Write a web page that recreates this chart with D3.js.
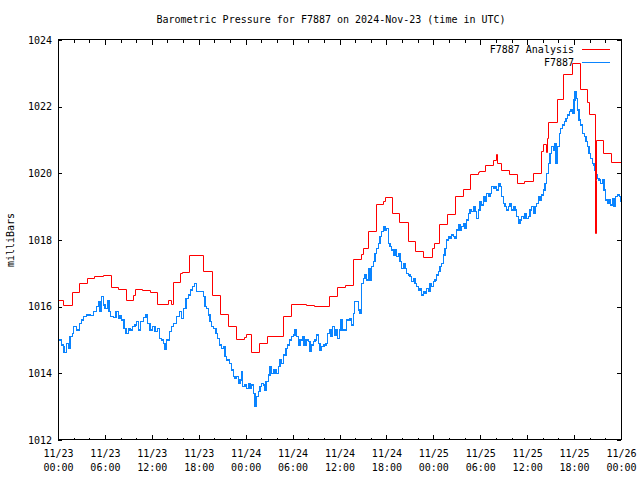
<!DOCTYPE html>
<html><head><meta charset="utf-8">
<script src="https://cdn.jsdelivr.net/npm/d3@7"></script>
<style>
body{margin:0;background:#fff}
svg text{font-family:"DejaVu Sans Mono",monospace;font-size:10px;fill:#000}
</style></head><body>
<svg id="c" width="640" height="480"></svg>
<script>
const chartTitle = "Barometric Pressure for F7887 on 2024-Nov-23 (time in UTC)";
const yAxisLabel = "milliBars";
const seriesNames = ["F7887 Analysis", "F7887"];
const yTickValues = [1012, 1014, 1016, 1018, 1020, 1022, 1024];
const xMajorHours = [0, 6, 12, 18, 24, 30, 36, 42, 48, 54, 60, 66, 72];
const xMinorHours = [2, 4, 8, 10, 14, 16, 20, 22, 26, 28, 32, 34, 38, 40, 44, 46, 50, 52, 56, 58, 62, 64, 68, 70];
const xTickDates = ["11/23","11/23","11/23","11/23","11/24","11/24","11/24","11/24","11/25","11/25","11/25","11/25","11/26"];
const xTickTimes = ["00:00","06:00","12:00","18:00","00:00","06:00","12:00","18:00","00:00","06:00","12:00","18:00","00:00"];

// Analysis series: [hours since 11/23 00:00 UTC, mbar], drawn as steps
const analysisPoints = [
[0,1016.19],[0.64,1016.04],[1.79,1016.45],[2.69,1016.71],[3.71,1016.85],[4.60,1016.91],[5.76,1016.95],[6.78,1016.58],[7.67,1016.54],[8.70,1016.19],
[9.59,1016.35],[9.85,1016.52],[10.74,1016.49],[11.77,1016.45],[12.66,1016.07],[14.07,1016.19],[14.45,1016.07],[14.71,1016.73],[15.60,1017.00],[15.86,1017.03],
[16.75,1017.56],[18.54,1017.06],[19.70,1016.34],[20.72,1015.77],[21.74,1015.41],[22.77,1015.03],[23.79,1015.10],[24.04,1015.17],[24.68,1014.63],[25.71,1014.90],
[26.73,1015.11],[28.78,1015.71],[29.80,1016.07],[31.72,1016.04],[32.74,1016.01],[34.66,1016.31],[35.68,1016.59],[36.71,1016.64],[37.73,1017.43],[38.75,1017.57],
[39.01,1017.77],[39.65,1018.27],[40.67,1019.07],[41.57,1019.18],[41.82,1019.28],[42.72,1018.80],[43.61,1018.54],[44.76,1017.97],[45.66,1017.66],[46.68,1017.48],
[47.83,1017.77],[48.09,1017.90],[48.73,1018.47],[49.75,1018.79],[50.78,1019.31],[51.80,1019.53],[52.69,1019.99],[53.71,1020.03],[53.84,1020.07],[54.61,1020.25],
[55.63,1020.40],[56.02,1020.58],[56.15,1020.30],[56.66,1020.10],[57.68,1019.97],[58.70,1019.71],[59.60,1019.77],[60.75,1020.00],[61.77,1020.67],[62.03,1020.89],
[62.41,1020.65],[62.54,1021.05],[62.67,1021.54],[63.82,1022.22],[64.59,1022.98],[65.74,1023.30],[66.76,1022.52],[67.66,1022.13],[67.91,1021.78],[68.68,1018.20],
[68.74,1019.80],[68.81,1021.00],[69.70,1020.60],[70.72,1020.34],[72,1020.34]
];

// Station series: [hours since 11/23 00:00 UTC, mbar]
const stationPoints = [
[0.00,1015.00],[0.47,1014.85],[0.68,1014.80],[0.77,1014.62],[1.11,1014.90],[1.32,1014.75],[1.53,1015.10],[1.83,1015.20],[1.96,1015.40],[2.39,1015.30],
[2.72,1015.50],[3.03,1015.60],[3.24,1015.70],[3.67,1015.75],[4.09,1015.73],[4.51,1015.85],[4.95,1016.00],[5.15,1016.15],[5.37,1015.85],[5.59,1016.30],
[5.79,1016.05],[6.01,1015.95],[6.31,1016.18],[6.52,1015.85],[6.74,1015.70],[7.07,1015.68],[7.42,1015.85],[7.71,1015.65],[7.93,1015.72],[8.15,1015.60],
[8.44,1015.35],[8.70,1015.20],[8.99,1015.35],[9.21,1015.30],[9.55,1015.40],[9.85,1015.45],[10.06,1015.55],[10.27,1015.30],[10.58,1015.55],[10.91,1015.68],
[11.25,1015.75],[11.42,1015.50],[11.77,1015.30],[12.11,1015.40],[12.41,1015.25],[12.70,1015.35],[12.96,1015.05],[13.26,1015.00],[13.47,1014.90],[13.68,1014.72],
[13.90,1015.00],[14.23,1015.25],[14.54,1015.40],[14.75,1015.50],[15.18,1015.70],[15.51,1015.85],[15.82,1015.65],[16.02,1015.95],[16.37,1016.25],[16.66,1016.35],
[16.97,1016.50],[17.23,1016.60],[17.43,1016.70],[17.74,1016.45],[18.07,1016.45],[18.58,1016.30],[18.80,1016.00],[19.02,1015.95],[19.22,1015.75],[19.44,1015.55],
[19.66,1015.40],[19.86,1015.35],[20.21,1015.20],[20.37,1015.05],[20.63,1014.85],[20.94,1014.75],[21.14,1014.80],[21.36,1014.50],[21.58,1014.40],[21.91,1014.30],
[22.21,1014.10],[22.42,1013.90],[22.64,1013.85],[22.85,1013.90],[23.06,1013.70],[23.28,1013.80],[23.49,1014.05],[23.62,1013.60],[23.92,1013.65],[24.13,1013.55],
[24.34,1013.70],[24.56,1013.55],[24.77,1013.65],[24.98,1013.40],[25.19,1013.00],[25.32,1013.30],[25.62,1013.45],[25.83,1013.60],[26.05,1013.70],[26.26,1013.65],
[26.47,1013.50],[26.60,1013.75],[26.90,1013.95],[27.11,1014.20],[27.33,1014.00],[27.62,1014.10],[27.88,1014.00],[28.17,1014.20],[28.39,1014.40],[28.61,1014.30],
[28.81,1014.55],[29.16,1014.75],[29.33,1014.85],[29.58,1015.00],[29.89,1015.10],[30.09,1015.15],[30.31,1015.30],[30.53,1015.10],[30.73,1014.85],[30.95,1015.00],
[31.30,1015.10],[31.46,1014.85],[31.72,1015.00],[32.01,1014.95],[32.23,1014.65],[32.45,1014.85],[32.65,1014.95],[32.87,1015.00],[33.09,1015.15],[33.29,1014.90],
[33.51,1014.70],[33.72,1014.80],[34.02,1014.85],[34.27,1014.90],[34.49,1015.20],[34.70,1015.30],[34.91,1015.10],[35.13,1015.40],[35.34,1015.15],[35.55,1015.30],
[35.72,1015.05],[35.98,1015.30],[36.19,1015.60],[36.41,1015.30],[36.92,1015.60],[37.34,1015.65],[37.56,1015.45],[37.77,1015.80],[37.89,1016.15],[38.20,1016.15],
[38.41,1015.90],[38.62,1015.80],[38.84,1016.70],[39.05,1016.85],[39.26,1016.95],[39.48,1016.80],[39.68,1017.15],[39.90,1016.80],[40.12,1017.20],[40.32,1017.35],
[40.54,1017.60],[40.76,1017.75],[40.96,1017.90],[41.18,1018.10],[41.40,1018.25],[41.60,1018.40],[41.82,1018.30],[42.04,1018.35],[42.24,1017.90],[42.46,1017.80],
[42.68,1017.70],[42.88,1017.55],[43.10,1017.70],[43.32,1017.50],[43.52,1017.60],[43.74,1017.35],[43.96,1017.15],[44.16,1017.30],[44.38,1017.15],[44.60,1017.00],
[44.80,1016.95],[45.02,1016.90],[45.23,1016.75],[45.44,1016.85],[45.66,1016.70],[45.87,1016.60],[46.08,1016.50],[46.30,1016.55],[46.51,1016.35],[46.72,1016.45],
[46.94,1016.40],[47.15,1016.55],[47.36,1016.45],[47.58,1016.70],[47.79,1016.60],[48.00,1016.75],[48.21,1016.80],[48.43,1016.95],[48.64,1017.05],[48.85,1017.20],
[49.07,1017.30],[49.28,1017.55],[49.49,1017.75],[49.71,1018.00],[49.92,1018.10],[50.13,1018.05],[50.35,1018.15],[50.56,1018.10],[50.77,1018.05],[50.99,1018.30],
[51.19,1018.45],[51.41,1018.30],[51.63,1018.40],[51.83,1018.50],[52.05,1018.35],[52.27,1018.60],[52.47,1018.80],[52.69,1018.90],[52.91,1018.85],[53.11,1019.00],
[53.33,1018.85],[53.55,1018.65],[53.75,1018.90],[53.97,1019.15],[54.19,1019.05],[54.39,1019.30],[54.61,1019.15],[54.83,1019.40],[55.03,1019.30],[55.25,1019.40],
[55.47,1019.60],[55.67,1019.55],[55.89,1019.60],[56.11,1019.50],[56.31,1019.70],[56.53,1019.60],[56.74,1019.30],[56.95,1019.10],[57.17,1019.00],[57.38,1018.90],
[57.59,1019.00],[57.81,1019.10],[58.02,1018.90],[58.23,1019.00],[58.45,1018.90],[58.66,1018.70],[58.87,1018.50],[59.09,1018.60],[59.30,1018.70],[59.51,1018.65],
[59.72,1018.80],[59.94,1018.65],[60.15,1018.70],[60.36,1018.90],[60.58,1019.00],[60.79,1018.80],[61.00,1019.00],[61.22,1019.10],[61.43,1019.30],[61.64,1019.20],
[61.86,1019.35],[62.07,1019.50],[62.28,1019.70],[62.50,1020.00],[62.70,1020.30],[62.92,1020.60],[63.14,1020.80],[63.34,1020.70],[63.56,1020.90],[63.69,1020.30],
[63.86,1020.80],[64.11,1021.20],[64.29,1021.35],[64.55,1021.45],[64.75,1021.55],[64.97,1021.65],[65.18,1021.75],[65.39,1021.85],[65.61,1021.90],[65.83,1021.80],
[65.99,1022.20],[66.12,1022.45],[66.25,1022.25],[66.41,1021.90],[66.63,1021.60],[66.85,1021.45],[67.10,1021.20],[67.31,1021.10],[67.53,1020.95],[67.69,1020.80],
[67.91,1020.60],[68.13,1020.45],[68.33,1020.30],[68.55,1020.25],[68.68,1020.10],[68.81,1019.95],[68.97,1019.85],[69.19,1019.80],[69.41,1019.70],[69.61,1019.80],
[69.83,1019.50],[70.05,1019.20],[70.25,1019.10],[70.47,1019.20],[70.69,1019.05],[70.89,1019.25],[71.11,1019.00],[71.32,1019.30],[71.53,1019.35],[71.78,1019.30],
[72.00,1019.15]
];

const colorAnalysis = "#ff0000";
const colorStation = "#0a84ff";

const svg = d3.select("#c");
const L = 58, R = 621, T = 40, B = 440;
const x = d3.scaleLinear().domain([0, 72]).range([L, R]);
const y = d3.scaleLinear().domain([1012, 1024]).range([B, T]);
const px = v => Math.round(v) + 0.5;

svg.append("text").attr("x", 331).attr("y", 23).attr("text-anchor", "middle").text(chartTitle);
svg.append("text").attr("transform", "translate(14,240) rotate(-90)").attr("text-anchor", "middle").text(yAxisLabel);

const g = svg.append("g");
g.append("path").datum(stationPoints)
  .attr("fill", "none").attr("stroke", colorStation).attr("stroke-width", 1.4)
  .attr("shape-rendering", "crispEdges")
  .attr("d", d3.line().x(d => x(d[0])).y(d => y(d[1])).curve(d3.curveStepAfter));
g.append("path").datum(analysisPoints)
  .attr("fill", "none").attr("stroke", colorAnalysis).attr("stroke-width", 1)
  .attr("d", d3.line().x(d => px(x(d[0]))).y(d => px(y(d[1])))
    .curve(d3.curveStepAfter));

function clean(sel) { sel.select(".domain").remove(); sel.selectAll(".tick line").attr("stroke", "#000").attr("shape-rendering", "crispEdges"); }

const yl = svg.append("g").attr("transform", `translate(${L},0)`)
  .call(d3.axisLeft(y).tickValues(yTickValues).tickSize(-4).tickPadding(6).tickFormat(d3.format("d")));
clean(yl);
yl.selectAll(".tick text").style("font-family", "DejaVu Sans Mono").style("font-size", "10px");
const yr = svg.append("g").attr("transform", `translate(${R},0)`)
  .call(d3.axisRight(y).tickValues(yTickValues).tickSize(-4).tickFormat(""));
clean(yr);

const xb = svg.append("g").attr("transform", `translate(0,${B})`)
  .call(d3.axisBottom(x).tickValues(xMajorHours).tickSize(-5).tickFormat(""));
clean(xb);
xb.selectAll(".tick").append("text").attr("text-anchor", "middle").attr("y", 17.3)
  .text((d, i) => xTickDates[i]);
xb.selectAll(".tick").append("text").attr("text-anchor", "middle").attr("y", 30.7)
  .text((d, i) => xTickTimes[i]);
const xbm = svg.append("g").attr("transform", `translate(0,${B})`)
  .call(d3.axisBottom(x).tickValues(xMinorHours).tickSize(-2.5).tickFormat(""));
clean(xbm);
const xt = svg.append("g").attr("transform", `translate(0,${T})`)
  .call(d3.axisTop(x).tickValues(xMajorHours).tickSize(-5).tickFormat(""));
clean(xt);
const xtm = svg.append("g").attr("transform", `translate(0,${T})`)
  .call(d3.axisTop(x).tickValues(xMinorHours).tickSize(-2.5).tickFormat(""));
clean(xtm);

svg.append("rect").attr("x", L + 0.5).attr("y", T - 0.5).attr("width", R - L).attr("height", B - T)
  .attr("fill", "none").attr("stroke", "#000").attr("shape-rendering", "crispEdges");

const legendColors = [colorAnalysis, colorStation];
seriesNames.forEach((name, i) => {
  const ly = 49 + i * 13;
  svg.append("text").attr("x", 574).attr("y", ly + 3.6).attr("text-anchor", "end").text(name);
  svg.append("line").attr("x1", 582).attr("x2", 610).attr("y1", ly + 0.5).attr("y2", ly + 0.5)
    .attr("stroke", legendColors[i]).attr("shape-rendering", "crispEdges");
});
</script>
</body></html>
